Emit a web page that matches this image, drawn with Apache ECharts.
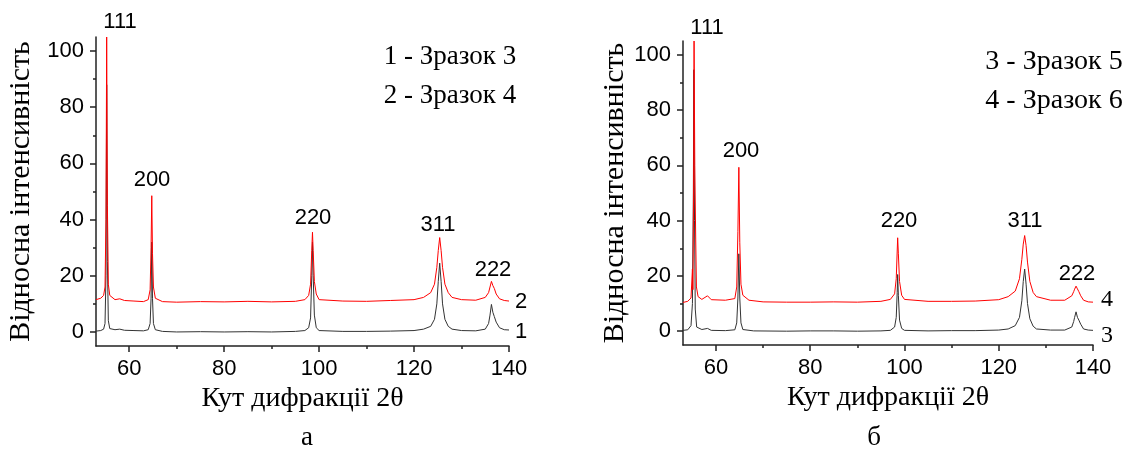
<!DOCTYPE html>
<html>
<head>
<meta charset="utf-8">
<script src="https://cdn.jsdelivr.net/npm/echarts@6/dist/echarts.min.js"></script>
<style>
html, body { margin: 0; padding: 0; background: #fff; }
#main { width: 1135px; height: 450px; }
</style>
</head>
<body>
<div id="main"></div>
<script>
// осі
var xMin = 53, xMax = 140;
var yMin = -5, yMax = 105;
var xMajor = [60, 80, 100, 120, 140];
var xMinor = [70, 90, 110, 130];
var yMajor = [0, 20, 40, 60, 80, 100];
var yMinor = [10, 30, 50, 70, 90];

var peakNames = ['111', '200', '220', '311', '222'];

// а: зразок 3 (крива 1) і зразок 4 (крива 2)
var curve1 = [[53,0.3],[54,0.5],[54.6,1],[54.9,3],[55.1,20],[55.25,88],[55.4,25],[55.6,4],[55.9,1.2],[57,0.8],[58,1.0],[59,0.6],[61,0.5],[63,0.4],[64,0.8],[64.4,3],[64.6,12],[64.75,32],[64.9,12],[65.1,3],[65.5,0.8],[67,0.2],[70,0],[75,0.1],[80,0],[85,0.1],[90,0],[95,0.2],[97,0.5],[97.8,1.5],[98.2,5],[98.45,20],[98.6,32],[98.75,20],[99,6],[99.4,1.5],[100,0.5],[105,0.2],[110,0.2],[115,0.3],[120,0.5],[122,1],[123.5,2],[124.3,4.5],[124.8,10],[125.1,18],[125.4,24.5],[125.7,18],[126,10],[126.5,4.5],[127.2,2],[128,1],[130,0.5],[133,0.4],[135,1],[135.7,3],[136.0,6],[136.3,9.8],[136.6,7],[136.9,5.5],[137.3,3.5],[138,1.5],[139,0.8],[140,0.7]];
var curve2 = [[53,11.5],[54,12],[54.6,13],[54.9,16],[55.1,40],[55.25,105],[55.4,45],[55.6,17],[55.9,13],[57,11.5],[58,11.8],[58.4,12.4],[59,11.2],[61,11],[63,10.8],[64,11.5],[64.4,15],[64.6,30],[64.75,48.5],[64.9,28],[65.1,16],[65.5,12],[67,10.8],[70,10.6],[75,10.8],[80,10.7],[85,10.9],[90,10.7],[95,10.9],[97,11.5],[97.8,13],[98.2,17],[98.45,29],[98.6,35.5],[98.75,29],[99,18],[99.4,13.5],[100,11.5],[105,11],[110,10.9],[115,11.2],[120,11.5],[122,12.3],[123.5,14],[124.3,17],[124.8,23],[125.1,29],[125.4,33.6],[125.7,29],[126,23],[126.5,17],[127.2,14],[128,12.3],[130,11.5],[133,11.3],[135,12.3],[135.7,14],[136.0,16],[136.3,18],[136.6,16.5],[136.9,15.5],[137.3,13.5],[138,11.8],[139,11.2],[140,11]];

// б: зразок 5 (крива 3) і зразок 6 (крива 4)
var curve3 = [[53,0.3],[54,0.5],[54.7,2],[55,10],[55.2,50],[55.3,94.6],[55.45,40],[55.6,8],[55.9,1.5],[57,0.6],[58.2,1],[59,0.3],[62,0.2],[64,0.5],[64.4,3],[64.65,12],[64.85,28],[65.05,12],[65.3,3],[65.7,0.6],[68,0.1],[75,0],[80,0.1],[85,0.1],[90,0],[95,0.1],[97,0.3],[97.9,1.5],[98.25,5],[98.45,14],[98.55,20.5],[98.7,13],[98.95,4],[99.4,1],[100,0.3],[105,0.1],[110,0.2],[115,0.2],[120,0.4],[122,0.8],[123.5,2],[124.4,5],[124.9,11],[125.2,18],[125.5,22.5],[125.8,17],[126.1,10],[126.6,4.5],[127.3,1.8],[128,0.8],[131,0.4],[134,0.4],[135.5,1.5],[135.9,3.5],[136.1,5],[136.4,7],[136.7,5],[137,4],[137.4,2.5],[138,0.8],[139,0.4],[140,0.3]];
var curve4 = [[53,10.4],[54,10.8],[54.7,12],[55,22.5],[55.1,15],[55.25,50],[55.35,105],[55.5,60],[55.7,33],[55.85,16],[56.2,12.5],[57,11.5],[58.2,12.8],[59,11.4],[62,11.2],[64,11.8],[64.4,16],[64.65,36],[64.85,59.3],[65.05,32],[65.3,17],[65.7,13],[67,11.2],[70,10.6],[75,10.5],[80,10.5],[85,10.6],[90,10.5],[95,10.8],[97,11.5],[97.9,13.5],[98.25,19],[98.45,29],[98.55,33.8],[98.7,28],[98.95,18],[99.4,13],[100,11.5],[105,10.8],[110,10.8],[115,10.9],[120,11.4],[122,12.5],[123.5,14.5],[124.4,19],[124.9,26],[125.2,31.5],[125.5,34.6],[125.8,31],[126.1,25],[126.6,18],[127.3,14],[128,12.5],[131,11.2],[134,11.2],[135.5,12.8],[135.9,14.3],[136.1,15.2],[136.4,16.3],[136.7,15.3],[137,14.3],[137.4,12.8],[138,11.2],[139,10.6],[140,10.5]];

var legendA = ['1 - Зразок 3', '2 - Зразок 4'];
var legendB = ['3 - Зразок 5', '4 - Зразок 6'];

var sans = '"Liberation Sans", Arial, sans-serif';
var serif = '"Liberation Serif", "Times New Roman", serif';
var axisColor = '#222';

function xAxes(grid) {
	return [{
		type: 'value', gridIndex: grid, min: xMin, max: xMax, position: 'bottom',
		name: 'Кут дифракції 2θ', nameLocation: 'middle', nameGap: 32,
		nameTextStyle: { fontFamily: serif, fontSize: 28, color: '#000' },
		axisLine: { onZero: false, lineStyle: { color: axisColor, width: 1.5 } },
		axisTick: { customValues: xMajor, length: 6, lineStyle: { color: axisColor, width: 1.5 } },
		axisLabel: { customValues: xMajor, margin: 12, fontFamily: sans, fontSize: 22, color: '#000' },
		splitLine: { show: false }
	}, {
		type: 'value', gridIndex: grid, min: xMin, max: xMax, position: 'bottom', offset: 0,
		axisLine: { show: true, onZero: false, lineStyle: { color: 'rgba(0,0,0,0)' } },
		axisTick: { show: true, customValues: xMinor, length: 3, lineStyle: { color: axisColor, width: 1.5 } },
		axisLabel: { show: false, customValues: xMinor },
		splitLine: { show: false }
	}];
}

function yAxes(grid, gap) {
	return [{
		type: 'value', gridIndex: grid, min: yMin, max: yMax, position: 'left',
		name: 'Відносна інтенсивність', nameLocation: 'middle', nameGap: gap,
		nameTextStyle: { fontFamily: serif, fontSize: 30, color: '#000' },
		axisLine: { show: true, onZero: false, lineStyle: { color: axisColor, width: 1.5 } },
		axisTick: { show: true, customValues: yMajor, length: 6, lineStyle: { color: axisColor, width: 1.5 } },
		axisLabel: { customValues: yMajor, margin: 12, fontFamily: sans, fontSize: 22, color: '#000' },
		splitLine: { show: false }
	}, {
		type: 'value', gridIndex: grid, min: yMin, max: yMax, position: 'left', offset: 0,
		axisLine: { show: true, onZero: false, lineStyle: { color: 'rgba(0,0,0,0)' } },
		axisTick: { show: true, customValues: yMinor, length: 3, lineStyle: { color: axisColor, width: 1.5 } },
		axisLabel: { show: false, customValues: yMinor },
		splitLine: { show: false }
	}];
}

function line(data, color, xi, yi) {
	return {
		type: 'line', data: data, xAxisIndex: xi, yAxisIndex: yi,
		showSymbol: false, symbol: 'none', silent: true, animation: false,
		lineStyle: { color: color, width: 1 }
	};
}

function txt(x, y, s, font, size) {
	return {
		type: 'text', x: x, y: y, silent: true,
		style: { text: s, fontFamily: font, fontSize: size, fill: '#000', align: 'center', verticalAlign: 'middle' }
	};
}

var labels = [
	// а
	txt(120, 22, peakNames[0], sans, 22),
	txt(152, 180, peakNames[1], sans, 22),
	txt(313, 218, peakNames[2], sans, 22),
	txt(438, 225, peakNames[3], sans, 22),
	txt(493, 270, peakNames[4], sans, 22),
	txt(521, 302, '2', sans, 22),
	txt(521, 332, '1', sans, 22),
	txt(450, 57, legendA[0], serif, 27),
	txt(450, 96, legendA[1], serif, 27),
	txt(307, 438, 'а', serif, 27),
	// б
	txt(707, 28, peakNames[0], sans, 22),
	txt(741, 151, peakNames[1], sans, 22),
	txt(899, 221, peakNames[2], sans, 22),
	txt(1025, 221, peakNames[3], sans, 22),
	txt(1077, 274, peakNames[4], sans, 22),
	txt(1107, 300, '4', serif, 24),
	txt(1107, 336, '3', serif, 24),
	txt(1054, 62, legendB[0], serif, 28),
	txt(1054, 101, legendB[1], serif, 28),
	txt(874, 438, 'б', serif, 27)
];

var chart = echarts.init(document.getElementById('main'));
chart.setOption({
	backgroundColor: '#fff',
	animation: false,
	grid: [
		{ left: 96, top: 37, width: 413, height: 309 },
		{ left: 683, top: 41, width: 410, height: 304 }
	],
	xAxis: xAxes(0).concat(xAxes(1)),
	yAxis: yAxes(0, 60).concat(yAxes(1, 53)),
	series: [
		line(curve1, '#333', 0, 0),
		line(curve2, '#ff0000', 0, 0),
		line(curve3, '#333', 2, 2),
		line(curve4, '#ff0000', 2, 2)
	],
	graphic: labels
});
</script>
</body>
</html>
